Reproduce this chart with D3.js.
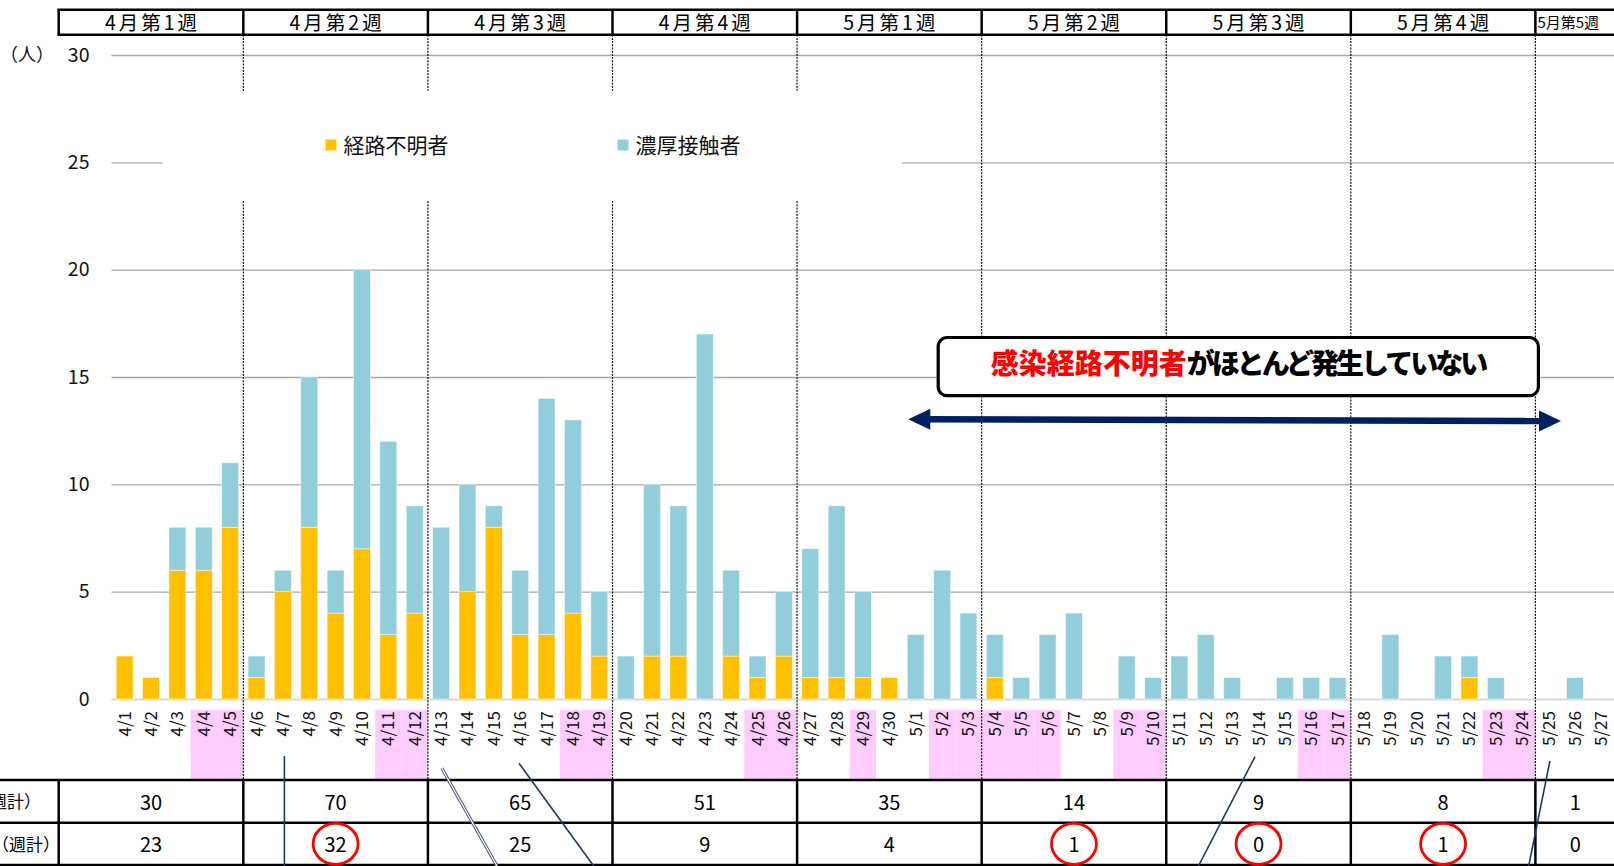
<!DOCTYPE html>
<html>
<head>
<meta charset="utf-8">
<script src="https://cdn.jsdelivr.net/npm/d3@7/dist/d3.min.js"></script>
<style>
  html, body { margin: 0; padding: 0; background: #fff; overflow: hidden; }
  svg { display: block; }
  text { font-family: "Noto Sans CJK JP", "Noto Sans", sans-serif; }
</style>
</head>
<body>
<svg id="chart" width="1614" height="866"></svg>
<script>
// ---------------- DATA ----------------
const dates = ["4/1","4/2","4/3","4/4","4/5","4/6","4/7","4/8","4/9","4/10","4/11","4/12",
  "4/13","4/14","4/15","4/16","4/17","4/18","4/19","4/20","4/21","4/22","4/23","4/24","4/25","4/26",
  "4/27","4/28","4/29","4/30","5/1","5/2","5/3","5/4","5/5","5/6","5/7","5/8","5/9","5/10",
  "5/11","5/12","5/13","5/14","5/15","5/16","5/17","5/18","5/19","5/20","5/21","5/22","5/23","5/24",
  "5/25","5/26","5/27"];
// 経路不明者 (yellow)
const unknownRoute = [2,1,6,6,8, 1,5,8,4,7,3,4, 0,5,8,3,3,4,2, 0,2,2,0,2,1,2,
  1,1,1,1,0,0,0, 1,0,0,0,0,0,0, 0,0,0,0,0,0,0, 0,0,0,0,1,0,0, 0,0,0];
// 濃厚接触者 (blue)
const closeContact = [0,0,2,2,3, 1,1,7,2,13,9,5, 8,5,1,3,11,9,3, 2,8,7,17,4,1,3,
  6,8,4,0,3,6,4, 2,1,3,4,0,2,1, 2,3,1,0,1,1,1, 0,3,0,2,1,1,0, 0,1,0];
// holidays / weekends (pink background)
const holidays = ["4/4","4/5","4/11","4/12","4/18","4/19","4/25","4/26","4/29","5/2","5/3",
  "5/4","5/5","5/6","5/9","5/10","5/16","5/17","5/23","5/24"];
// weeks
const weekLabels = ["4月第1週","4月第2週","4月第3週","4月第4週","5月第1週","5月第2週","5月第3週","5月第4週","5月第5週"];
const weekStart = ["4/1","4/6","4/13","4/20","4/27","5/4","5/11","5/18","5/25"];
const weekTotal = [30,70,65,51,35,14,9,8,1];
const weekUnknown = [23,32,25,9,4,1,0,1,0];
const weekCircled = [false,true,false,false,false,true,true,true,false];
const rowLabels = ["週計）","（週計）"];
const yTicks = [0,5,10,15,20,25,30];
const seriesNames = ["経路不明者","濃厚接触者"];
const colors = ["#FFC000","#92CDDC"];

// ---------------- LAYOUT ----------------
const W = 1614, H = 866;
const plotLeft = 111.5, plotRight = 1614.5;
const yTop = 55, yBottom = 699;
const headerTop = 9.7, headerBottom = 34.7, tableLeft = 58.7;
const tableTop = 780, tableMid = 822.7, tableBottom = 865;

const svg = d3.select("#chart");

const x = d3.scaleBand().domain(dates).range([plotLeft, plotRight])
  .paddingInner(0.36).paddingOuter(0.18);
const y = d3.scaleLinear().domain([0, 30]).range([yBottom, yTop]);
const step = x.step();
const slotStart = d => x(d) - (step - x.bandwidth()) / 2;

// pink holiday backgrounds under labels
svg.append("g").selectAll("rect").data(holidays).join("rect")
  .attr("x", d => slotStart(d)).attr("width", step)
  .attr("y", 710).attr("height", tableTop - 710)
  .attr("fill", "#FFCCFF");

// gridlines
const yAxis = d3.axisLeft(y).tickValues(yTicks).tickSize(-(W - plotLeft)).tickPadding(20);
const gy = svg.append("g").attr("transform", `translate(${plotLeft},0)`).call(yAxis);
gy.select(".domain").remove();
gy.selectAll(".tick line").attr("stroke", d => d === 0 ? "#D9D9D9" : "#A6A6A6")
  .attr("stroke-width", d => d === 0 ? 2 : 1.3);
gy.selectAll(".tick text").attr("font-family", "Lato, 'Open Sans', sans-serif")
  .attr("font-size", 19.5).attr("fill", "#111").attr("x", -22);

svg.append("text").attr("x", 27).attr("y", y(30)).attr("dy", "0.35em")
  .attr("text-anchor", "middle").attr("font-size", 18).attr("fill", "#111").text("（人）");

// week dotted separators
const sepDates = weekStart.slice(1);
svg.append("g").selectAll("line").data(sepDates).join("line")
  .attr("x1", d => slotStart(d)).attr("x2", d => slotStart(d))
  .attr("y1", headerBottom).attr("y2", tableTop)
  .attr("stroke", "#111").attr("stroke-width", 1.2).attr("stroke-dasharray", "2,1.2");

// legend box (white) covering gridline / separators
svg.append("rect").attr("x", 162.5).attr("y", 90.7).attr("width", 902 - 162.5).attr("height", 200 - 90.7)
  .attr("fill", "#fff");
const legendPos = [325.5, 617.5];
const lg = svg.append("g").selectAll("g").data(seriesNames).join("g")
  .attr("transform", (d, i) => `translate(${legendPos[i]},145)`);
lg.append("rect").attr("x", 0).attr("y", -5.5).attr("width", 11).attr("height", 11)
  .attr("fill", (d, i) => colors[i]);
lg.append("text").attr("x", 18).attr("y", 0).attr("dy", "0.36em")
  .attr("font-size", 21).attr("fill", "#111").text(d => d);

// stacked bars
const rows = dates.map((d, i) => ({ date: d, unknown: unknownRoute[i], contact: closeContact[i] }));
const stack = d3.stack().keys(["unknown", "contact"])(rows);
svg.append("g").selectAll("g").data(stack).join("g")
  .attr("fill", (s, i) => colors[i])
  .selectAll("rect").data(s => s.filter(v => v[1] > v[0])).join("rect")
  .attr("x", v => x(v.data.date)).attr("width", x.bandwidth())
  .attr("y", v => y(v[1])).attr("height", v => y(v[0]) - y(v[1]))
  .attr("stroke", "#fff").attr("stroke-opacity", 0.55).attr("stroke-width", 0.8);

// x axis labels (rotated)
svg.append("g").selectAll("text").data(dates).join("text")
  .attr("transform", d => `translate(${x(d) + x.bandwidth() / 2 + 6},711) rotate(-90)`)
  .attr("text-anchor", "end").attr("font-size", 17).attr("fill", "#111").text(d => d);

// header row
const weekX0 = weekStart.map((d, i) => i === 0 ? tableLeft : slotStart(d));
const weekX1 = weekX0.map((v, i) => i < weekX0.length - 1 ? weekX0[i + 1] : W + 5);
const hdr = svg.append("g");
hdr.append("rect").attr("x", tableLeft).attr("y", headerTop).attr("width", W + 10 - tableLeft)
  .attr("height", headerBottom - headerTop).attr("fill", "#fff");
hdr.selectAll("line.v").data(weekX0).join("line").attr("class", "v")
  .attr("x1", d => d).attr("x2", d => d).attr("y1", headerTop).attr("y2", headerBottom)
  .attr("stroke", "#000").attr("stroke-width", 2.5);
[headerTop, headerBottom].forEach(yy => hdr.append("line").attr("x1", tableLeft - 1.2).attr("x2", W + 5)
  .attr("y1", yy).attr("y2", yy).attr("stroke", "#000").attr("stroke-width", 2.5));
hdr.selectAll("text").data(weekLabels).join("text")
  .attr("x", (d, i) => i === weekLabels.length - 1 ? weekX0[i] + 2 : (weekX0[i] + weekX1[i]) / 2 + 1.5)
  .attr("y", (headerTop + headerBottom) / 2 + 0.5).attr("dy", "0.36em")
  .attr("text-anchor", (d, i) => i === weekLabels.length - 1 ? "start" : "middle")
  .attr("font-size", (d, i) => i === weekLabels.length - 1 ? 15 : 19.5)
  .attr("letter-spacing", (d, i) => i === weekLabels.length - 1 ? 0 : 3)
  .attr("fill", "#000").text(d => d);

// bottom table
const tbl = svg.append("g");
[tableTop, tableMid, tableBottom].forEach(yy => tbl.append("line").attr("x1", 0).attr("x2", W)
  .attr("y1", yy).attr("y2", yy).attr("stroke", "#000").attr("stroke-width", 2.5));
tbl.selectAll("line.v").data(weekX0).join("line").attr("class", "v")
  .attr("x1", d => d).attr("x2", d => d).attr("y1", tableTop).attr("y2", H)
  .attr("stroke", "#000").attr("stroke-width", 2.5);
const rowY = [(tableTop + tableMid) / 2 + 1, (tableMid + tableBottom) / 2 + 1];
const rowEnd = [41, 60];
tbl.selectAll("text.rl").data(rowLabels).join("text").attr("class", "rl")
  .attr("x", (d, i) => rowEnd[i]).attr("y", (d, i) => rowY[i]).attr("dy", "0.36em")
  .attr("text-anchor", "end").attr("font-size", 17).attr("fill", "#000").text(d => d);
const cx = (i) => (weekX0[i] + weekX1[i]) / 2 + (i === weekX0.length - 1 ? -2 : 0);
tbl.selectAll("text.t").data(weekTotal).join("text").attr("class", "t")
  .attr("x", (d, i) => cx(i)).attr("y", rowY[0]).attr("dy", "0.36em")
  .attr("text-anchor", "middle").attr("font-size", 20).attr("fill", "#000").text(d => d);
tbl.selectAll("text.u").data(weekUnknown).join("text").attr("class", "u")
  .attr("x", (d, i) => cx(i)).attr("y", rowY[1]).attr("dy", "0.36em")
  .attr("text-anchor", "middle").attr("font-size", 20).attr("fill", "#000").text(d => d);
tbl.selectAll("ellipse").data(weekUnknown.map((d, i) => i).filter(i => weekCircled[i])).join("ellipse")
  .attr("cx", i => cx(i)).attr("cy", (tableMid + tableBottom) / 2)
  .attr("rx", 22.5).attr("ry", 20.5).attr("fill", "none").attr("stroke", "#FF0000").attr("stroke-width", 2.8);

// leader lines (annotation decorations)
const leaders = [
  { x1: 284.4, y1: 756, x2: 284.4, y2: 866 },
  { x1: 519, y1: 763.3, x2: 593.7, y2: 866 },
  { x1: 1255, y1: 756.7, x2: 1198.4, y2: 866 },
  { x1: 1549.9, y1: 761, x2: 1528.7, y2: 866 }
];
svg.append("g").selectAll("line").data(leaders).join("line")
  .attr("x1", d => d.x1).attr("y1", d => d.y1).attr("x2", d => d.x2).attr("y2", d => d.y2)
  .attr("stroke", "#1F3864").attr("stroke-width", 1.6);
// double line
const dl = { x1: 441.8, y1: 768.3, x2: 497, y2: 866 };
svg.append("line").attr("x1", dl.x1).attr("y1", dl.y1).attr("x2", dl.x2).attr("y2", dl.y2)
  .attr("stroke", "#4A5A7A").attr("stroke-width", 3.2);
svg.append("line").attr("x1", dl.x1).attr("y1", dl.y1).attr("x2", dl.x2).attr("y2", dl.y2)
  .attr("stroke", "#fff").attr("stroke-width", 1.2);

// double-headed arrow
const ar = { x1: 908.3, y1: 419.3, x2: 1561, y2: 421 };
const ang = Math.atan2(ar.y2 - ar.y1, ar.x2 - ar.x1);
const hl = 22, hw = 10.5;
function head(px, py, dir) {
  const c = Math.cos(ang) * dir, s = Math.sin(ang) * dir;
  const bx = px - c * hl, by = py - s * hl;
  return `M${px},${py} L${bx - s * hw},${by + c * hw} L${bx + s * hw},${by - c * hw} Z`;
}
svg.append("line")
  .attr("x1", ar.x1 + Math.cos(ang) * 20).attr("y1", ar.y1 + Math.sin(ang) * 20)
  .attr("x2", ar.x2 - Math.cos(ang) * 20).attr("y2", ar.y2 - Math.sin(ang) * 20)
  .attr("stroke", "#002060").attr("stroke-width", 6.5);
svg.append("path").attr("d", head(ar.x1, ar.y1, -1)).attr("fill", "#002060");
svg.append("path").attr("d", head(ar.x2, ar.y2, 1)).attr("fill", "#002060");

// callout box
svg.append("rect").attr("x", 938.2).attr("y", 337.5).attr("width", 1538.4 - 938.2).attr("height", 395.7 - 337.5)
  .attr("rx", 9).attr("ry", 9).attr("fill", "#fff").attr("stroke", "#000").attr("stroke-width", 3.2);
const ct = svg.append("text").attr("x", 1238).attr("y", 364).attr("dy", "0.36em")
  .attr("text-anchor", "middle").attr("font-size", 28).attr("font-weight", 900);
ct.append("tspan").attr("fill", "#FF0000").text("感染経路不明者");
ct.append("tspan").attr("fill", "#000").attr("letter-spacing", -3).text("がほとんど発生していない");
</script>
</body>
</html>
